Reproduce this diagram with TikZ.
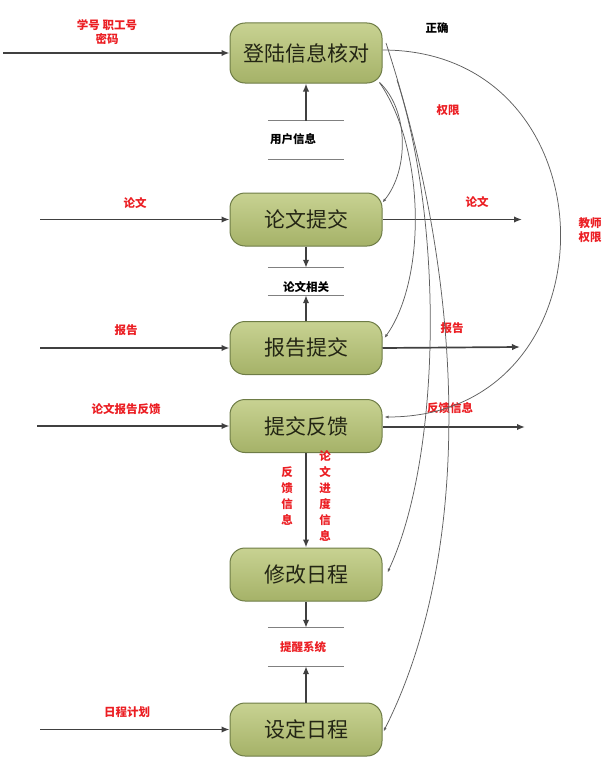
\documentclass[tikz,border=0pt]{standalone}
\usepackage{fontspec}
\setmainfont{Noto Sans CJK SC}
\usetikzlibrary{arrows.meta}
\definecolor{boxtop}{RGB}{200,210,146}
\definecolor{boxbot}{RGB}{165,178,104}
\definecolor{boxdraw}{RGB}{110,124,70}
\definecolor{boxtext}{RGB}{35,37,20}
\definecolor{arrowc}{RGB}{64,64,64}
\definecolor{thinc}{RGB}{95,95,95}
\definecolor{storec}{RGB}{128,128,128}
\definecolor{redc}{RGB}{235,30,35}
\tikzset{
  proc/.style={draw=boxdraw, line width=1pt, rounded corners=15pt, top color=boxtop, bottom color=boxbot,
    minimum width=152pt, minimum height=53pt, text=boxtext, font=\fontsize{21}{25}\selectfont, inner sep=0pt},
  mainarrow/.style={draw=arrowc, line width=1.7pt, -{Latex[length=8pt,width=6.5pt]}},
  thinarrow/.style={draw=thinc, line width=0.75pt, -{Latex[length=4pt,width=3pt]}},
  store/.style={minimum width=76pt, inner sep=0pt},
  storeline/.style={draw=storec, line width=1.2pt},
  lbl/.style={font=\fontsize{11.5}{14}\selectfont\bfseries, inner sep=0pt, text=black},
  rlbl/.style={font=\fontsize{11.5}{14}\selectfont\bfseries, inner sep=0pt, text=redc},
  vlbl/.style={font=\fontsize{11.5}{16}\selectfont\bfseries, inner sep=0pt, text=redc, align=center},
}
\begin{document}
\begin{tikzpicture}[x=1pt,y=-1pt]
\useasboundingbox (0,0) rectangle (607,760);
% processes
\node[proc, minimum height=60pt] (b1) at (306,53) {登陆信息核对};
\node[proc] (b2) at (306,219.5) {论文提交};
\node[proc] (b3) at (306,348) {报告提交};
\node[proc] (b4) at (306,426) {提交反馈};
\node[proc] (b5) at (306,574.5) {修改日程};
\node[proc] (b6) at (306,729.5) {设定日程};
% data stores
\node[store, minimum height=38pt] (d1) at (306,140) {};
\draw[storeline] (d1.north west) -- (d1.north east) (d1.south west) -- (d1.south east);
\node[lbl, anchor=west] (t1) at (270,139) {用户信息};
\node[store, minimum height=27pt] (d2) at (306,281.5) {};
\draw[storeline] (d2.north west) -- (d2.north east) (d2.south west) -- (d2.south east);
\node[lbl] (t2) at (306,287) {论文相关};
\node[store, minimum height=38pt] (d3) at (306,647) {};
\draw[storeline] (d3.north west) -- (d3.north east) (d3.south west) -- (d3.south east);
\node[rlbl] (t3) at (303,647) {提醒系统};
% vertical flows
\draw[mainarrow] (d1.north) -- (b1.south);
\draw[mainarrow] (b2.south) -- (d2.north);
\draw[mainarrow] (b3.north) -- (d2.south);
\draw[mainarrow] (b4.south) -- (b5.north);
\draw[mainarrow] (b5.south) -- (d3.north);
\draw[mainarrow] (b6.north) -- (d3.south);
\node[vlbl] (v1) at (287,496) {反\\馈\\信\\息};
\node[vlbl] (v2) at (325,496) {论\\文\\进\\度\\信\\息};
% inputs
\coordinate (i1) at (3,53);
\coordinate (i2) at (40,219.5);
\coordinate (i3) at (40,348);
\coordinate (i4) at (37,426);
\coordinate (i6) at (40,729.5);
\draw[mainarrow] (i1) -- (b1.west);
\draw[mainarrow] (i2) -- (b2.west);
\draw[mainarrow] (i3) -- (b3.west);
\draw[mainarrow] (i4) -- (b4.west);
\draw[mainarrow] (i6) -- (b6.west);
\node[rlbl, align=center] (l1) at (107,32) {学号\ 职工号\\密码};
\node[rlbl] (l2) at (135,203) {论文};
\node[rlbl] (l3) at (126,330) {报告};
\node[rlbl] (l4) at (126,409) {论文报告反馈};
\node[rlbl] (l6) at (127,712) {日程计划};
% outputs
\coordinate (o2) at (522,219.5);
\coordinate (o3) at (520,347);
\coordinate (o4) at (525,427);
\draw[mainarrow] (b2.east) -- (o2);
\draw[mainarrow] (b3.east) -- (o3);
\draw[mainarrow] ([yshift=-1pt]b4.east) -- (o4);
\node[rlbl] (r2) at (477,202) {论文};
\node[rlbl] (r3) at (452,328) {报告};
\node[rlbl] (r4) at (450,408) {反馈信息};
% curved flows from login
\coordinate (s3) at (397,80);
\coordinate (s4) at (386,43);
\draw[thinarrow] ([xshift=-3pt,yshift=1pt]b1.south east) .. controls (409,110) and (409,170) .. ([yshift=17pt]b2.east);
\draw[thinarrow] ([xshift=-3pt,yshift=1pt]b1.south east) .. controls (426,150) and (426,280) .. ([xshift=2pt,yshift=10pt]b3.east);
\draw[thinarrow] (s3) .. controls (445,230) and (440,460) .. ([xshift=5pt,yshift=2pt]b5.east);
\draw[thinarrow] (s4) .. controls (470,300) and (470,560) .. ([xshift=1pt,yshift=-2pt]b6.east);
\draw[thinarrow] ([yshift=3pt]b1.east) .. controls (618,50) and (620,417) .. ([xshift=2pt,yshift=9pt]b4.east);
\node[lbl] (k1) at (437,28) {正确};
\node[rlbl] (k2) at (448,110) {权限};
\node[rlbl, align=center] (k3) at (590,230) {教师\\权限};
\end{tikzpicture}
\end{document}
